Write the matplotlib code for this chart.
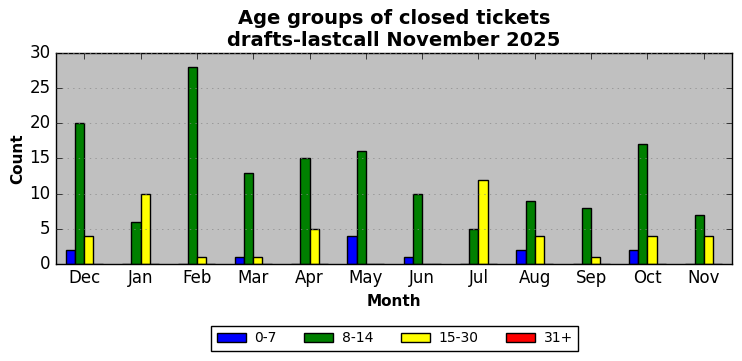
import matplotlib
matplotlib.use('Agg')
import matplotlib.pyplot as plt
import numpy as np

plt.style.use('classic')

# Monthly counts of closed tickets per age group
months = ['Dec', 'Jan', 'Feb', 'Mar', 'Apr', 'May', 'Jun', 'Jul', 'Aug', 'Sep', 'Oct', 'Nov']
age_0_7 = [2, 0, 0, 1, 0, 4, 1, 0, 2, 0, 2, 0]
age_8_14 = [20, 6, 28, 13, 15, 16, 10, 5, 9, 8, 17, 7]
age_15_30 = [4, 10, 1, 1, 5, 0, 0, 12, 4, 1, 4, 4]
age_31_plus = [0, 0, 0, 0, 0, 0, 0, 0, 0, 0, 0, 0]

series = [('0-7', age_0_7, 'blue'),
          ('8-14', age_8_14, 'green'),
          ('15-30', age_15_30, 'yellow'),
          ('31+', age_31_plus, 'red')]

fig = plt.figure(figsize=(7.42, 3.61), dpi=100, facecolor='white')
ax = fig.add_axes([0.0755, 0.269, 0.911, 0.584])
ax.set_facecolor('#c0c0c0')

x = np.arange(len(months))
w = 0.165
for i, (name, vals, color) in enumerate(series):
    ax.bar(x + (i - 1.5) * w, vals, width=w, color=color, edgecolor='black',
           linewidth=1, align='center', label=name)

ax.set_xlim(-0.5, len(months) - 0.5)
ax.set_ylim(0, 30)
ax.set_yticks(range(0, 31, 5))
ax.set_xticks(x)
ax.set_xticklabels(months)
ax.tick_params(labelsize=12)
ax.yaxis.grid(True, linestyle=':', color='#888888')
ax.xaxis.grid(False)

ax.set_xlabel('Month', fontsize=11, fontweight='bold')
ax.set_ylabel('Count', fontsize=11, fontweight='bold', labelpad=3)
ax.set_title('Age groups of closed tickets\ndrafts-lastcall November 2025',
             fontsize=14, fontweight='bold')

fig.legend(loc='center', bbox_to_anchor=(0.532, 0.063), ncol=4, fontsize=10,
           fancybox=False, frameon=True, handlelength=2.1, handletextpad=0.6,
           columnspacing=2.0)

fig.savefig('out.png', dpi=100, facecolor='white')
